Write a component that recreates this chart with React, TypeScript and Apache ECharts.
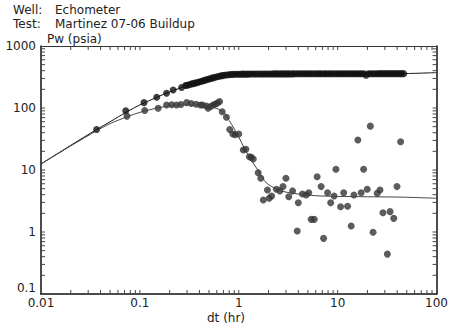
import React, { useEffect, useRef } from "react";
import * as echarts from "echarts";

// Pressure change (upper curve) measured points
const pressureDt = [0.0365, 0.072, 0.11, 0.148, 0.186, 0.217, 0.264,
  0.29, 0.30, 0.315, 0.33, 0.345, 0.36, 0.375, 0.39, 0.41, 0.43,
  0.45, 0.47, 0.49, 0.51, 0.535, 0.56, 0.59, 0.62, 0.65, 0.68,
  0.71, 0.75, 0.79, 0.83, 0.87, 0.92, 0.97, 1.02, 1.07, 1.12,
  1.18, 1.24, 1.3, 1.37, 1.44, 1.51, 1.59, 1.67, 1.75, 1.84,
  1.93, 2.03, 2.13, 2.24, 2.35, 2.47, 2.6, 2.73, 2.87, 3.0,
  3.15, 3.3, 3.5, 3.65, 3.85, 4.05, 4.25, 4.45, 4.7, 4.9,
  5.15, 5.4, 5.7, 6.0, 6.3, 6.6, 6.9, 7.3, 7.6, 8.0,
  8.4, 8.8, 9.3, 9.8, 10.3, 10.8, 11.3, 11.9, 12.5, 13.1,
  13.8, 14.5, 15.2, 16.0, 16.8, 17.6, 18.5, 19.4, 20.4, 21.4,
  22.5, 23.6, 24.8, 26.0, 27.3, 28.7, 30.1, 31.6, 33.2, 34.9,
  36.6, 38.4, 40.3, 42.3, 44.4, 46.6];
const pressureP = [45, 90, 122, 149, 173, 195, 214,
  230, 233, 237, 243, 247, 252, 256, 261, 267, 273,
  279, 285, 291, 297, 303, 309, 316, 322, 328, 333,
  337, 341, 344, 347, 349, 350, 351, 351, 352, 352,
  352, 352, 353, 353, 353, 353, 353, 354, 354, 354,
  354, 354, 354, 355, 355, 355, 355, 355, 355, 355,
  355, 355, 355, 356, 356, 356, 356, 356, 356, 356,
  356, 356, 356, 356, 356, 356, 357, 357, 357, 357,
  357, 357, 357, 357, 357, 357, 357, 357, 357, 357,
  357, 357, 357, 357, 357, 357, 357, 338, 357, 357,
  357, 357, 357, 358, 358, 358, 358, 358, 358, 358,
  358, 358, 358, 358, 358, 358];

// Derivative measured points
const derivDt = [0.074, 0.112, 0.153, 0.186, 0.21, 0.235, 0.26, 0.297, 0.33, 0.37, 0.41, 0.43, 0.47, 0.49,
  0.52, 0.55, 0.58, 0.61, 0.64, 0.68, 0.75, 0.81, 0.87, 0.92, 1.0, 1.11, 1.18, 1.28, 1.34, 1.4,
  1.57, 1.67, 1.77, 1.95, 2.03, 2.15, 2.4, 2.6, 2.8, 3.0, 3.2, 3.5, 3.9, 4.0, 4.4, 4.8, 5.1, 5.4, 5.8,
  6.2, 6.8, 7.2, 7.9, 8.5, 9.2, 9.6, 10.7, 11.5, 12.6, 13.7, 14.6, 16, 17.3, 18.3, 19.9, 21.4, 22.8,
  25.1, 26.8, 28.7, 31.8, 33.9, 36.9, 39.8, 43.3];
const derivP = [74, 91, 99, 112, 113, 112, 114, 122, 118, 115, 112, 112, 108, 99,
  106, 112, 116, 120, 127, 87, 71, 45, 38, 37, 38, 21, 21.6, 16.4, 16, 15,
  9.06, 7.35, 3.28, 4.75, 3.5, 3.8, 4.9, 4.6, 5.4, 7.35, 3.7, 4.6, 1.04, 2.97, 4.1, 3.95, 4.3, 1.6, 1.6,
  7.8, 5.4, 0.79, 4.3, 2.97, 3.8, 10.3, 2.56, 4.3, 2.6, 1.25, 3.95, 30.5, 4.3, 10.3, 4.9, 51, 0.99,
  4.2, 4.75, 2.05, 0.44, 2.13, 1.66, 5.4, 28.6];

// Model curves
const modelPDt = [0.01, 0.02, 0.0365, 0.05, 0.074, 0.1, 0.15, 0.2, 0.3, 0.4, 0.5, 0.7, 1, 2, 5, 10, 20, 50, 100];
const modelP = [12.5, 25, 45, 60, 87, 112, 150, 182, 230, 268, 297, 335, 350, 354, 356, 357, 358, 360, 372];
const modelDDt = [0.01, 0.02, 0.0365, 0.05, 0.074, 0.1, 0.15, 0.2, 0.3, 0.4, 0.5, 0.6, 0.7, 0.8, 0.9, 1.0,
  1.1, 1.3, 1.6, 1.9, 2.5, 3, 4, 6, 10, 20, 45, 100];
const modelD = [12.5, 24.5, 43, 56, 72, 85, 100, 108, 113, 111, 106, 98, 86, 63, 46, 34,
  25, 15.5, 9.4, 6.2, 4.8, 4.4, 4.1, 3.85, 3.75, 3.7, 3.65, 3.5];

// Axes
const xMin = 0.01, xMax = 100, yMin = 0.1, yMax = 1000;
const xTickLabels = ["0.01", "0.1", "1", "10", "100"];
const yTickLabels = ["0.1", "1", "10", "100", "1000"];
const xDecades = [0.01, 0.1, 1, 10];
const yDecades = [0.1, 1, 10, 100];
const minorSteps = [1, 2, 3, 4, 5, 6, 7, 8, 9];

const FONT = "DejaVu Sans";

export default function App() {
  const ref = useRef<HTMLDivElement>(null);
  useEffect(() => {
    if (!ref.current) return;
    const chart = echarts.init(ref.current, undefined, { renderer: "svg" });

    const tickData: number[][] = [];
    xDecades.forEach((d) => minorSteps.forEach((s) => {
      const v = d * s;
      if (v > xMin * 1.001) tickData.push([v, yMin, 0]);
    }));
    yDecades.forEach((d) => minorSteps.forEach((s) => {
      const v = d * s;
      if (v > yMin * 1.001) tickData.push([xMin, v, 1]);
    }));

    const L = 4;
    const lineStyle = { stroke: "#444", lineWidth: 1 };

    chart.setOption({
      animation: false,
      grid: { left: 41, top: 46, width: 396, height: 248, containLabel: false },
      graphic: [
        { type: "text", left: 13, top: 4, style: { text: "Well:", font: `12px '${FONT}'`, fill: "#222" } },
        { type: "text", left: 55, top: 4, style: { text: "Echometer", font: `12px '${FONT}'`, fill: "#222" } },
        { type: "text", left: 13, top: 18, style: { text: "Test:", font: `12px '${FONT}'`, fill: "#222" } },
        { type: "text", left: 55, top: 18, style: { text: "Martinez 07-06 Buildup", font: `12px '${FONT}'`, fill: "#222" } },
        { type: "text", left: 47, top: 33, style: { text: "Pw (psia)", font: `12px '${FONT}'`, fill: "#222" } },
        { type: "text", left: 207, top: 312, style: { text: "dt (hr)", font: `12px '${FONT}'`, fill: "#222" } },
      ],
      xAxis: [
        {
          type: "log", logBase: 10, min: xMin, max: xMax, position: "bottom",
          axisLine: { lineStyle: { color: "#111", width: 1.5 } },
          axisTick: { show: false }, splitLine: { show: false },
          axisLabel: {
            margin: 3, color: "#222", fontFamily: FONT, fontSize: 12,
            formatter: (v: number) => xTickLabels[Math.round(Math.log10(v)) + 2] ?? "",
          },
        },
        {
          type: "log", logBase: 10, min: xMin, max: xMax, position: "top",
          axisLine: { lineStyle: { color: "#333", width: 1 } },
          axisTick: { show: false }, splitLine: { show: false }, axisLabel: { show: false },
        },
      ],
      yAxis: [
        {
          type: "log", logBase: 10, min: yMin, max: yMax, position: "left",
          axisLine: { lineStyle: { color: "#111", width: 1.5 } },
          axisTick: { show: false }, splitLine: { show: false },
          axisLabel: {
            margin: 5, color: "#222", fontFamily: FONT, fontSize: 12,
            verticalAlignMinLabel: "bottom",
            formatter: (v: number) => yTickLabels[Math.round(Math.log10(v)) + 1] ?? "",
          },
        },
        {
          type: "log", logBase: 10, min: yMin, max: yMax, position: "right",
          axisLine: { lineStyle: { color: "#111", width: 1.5 } },
          axisTick: { show: false }, splitLine: { show: false }, axisLabel: { show: false },
        },
      ],
      series: [
        {
          type: "custom", name: "ticks", clip: false, silent: true,
          data: tickData,
          renderItem: (params: any, api: any) => {
            const kind = api.value(2);
            if (kind === 0) {
              const v = api.value(0);
              const b = api.coord([v, yMin]);
              const t = api.coord([v, yMax]);
              return {
                type: "group", children: [
                  { type: "line", shape: { x1: b[0], y1: b[1], x2: b[0], y2: b[1] - L }, style: lineStyle },
                  { type: "line", shape: { x1: t[0], y1: t[1], x2: t[0], y2: t[1] + L }, style: lineStyle },
                ],
              };
            }
            const v = api.value(1);
            const l = api.coord([xMin, v]);
            const r = api.coord([xMax, v]);
            return {
              type: "group", children: [
                { type: "line", shape: { x1: l[0], y1: l[1], x2: l[0] + L, y2: l[1] }, style: lineStyle },
                { type: "line", shape: { x1: r[0], y1: r[1], x2: r[0] - L, y2: r[1] }, style: lineStyle },
              ],
            };
          },
        },
        {
          type: "scatter", name: "Pressure", symbol: "circle", symbolSize: 7,
          itemStyle: { color: "#111" },
          data: pressureDt.map((d, i) => [d, pressureP[i]]),
        },
        {
          type: "scatter", name: "Derivative", symbol: "circle", symbolSize: 7,
          itemStyle: { color: "#333" },
          data: derivDt.map((d, i) => [d, derivP[i]]),
        },
        {
          type: "line", name: "Model pressure", showSymbol: false, symbol: "none",
          lineStyle: { color: "#111", width: 1 },
          data: modelPDt.map((d, i) => [d, modelP[i]]), smooth: 0.3,
        },
        {
          type: "line", name: "Model derivative", showSymbol: false, symbol: "none",
          lineStyle: { color: "#444", width: 1 },
          data: modelDDt.map((d, i) => [d, modelD[i]]), smooth: 0.3,
        },
      ],
    });
    return () => chart.dispose();
  }, []);
  return <div ref={ref} style={{ position: "fixed", left: 0, top: 0, width: 451, height: 332, background: "#fff" }} />;
}
